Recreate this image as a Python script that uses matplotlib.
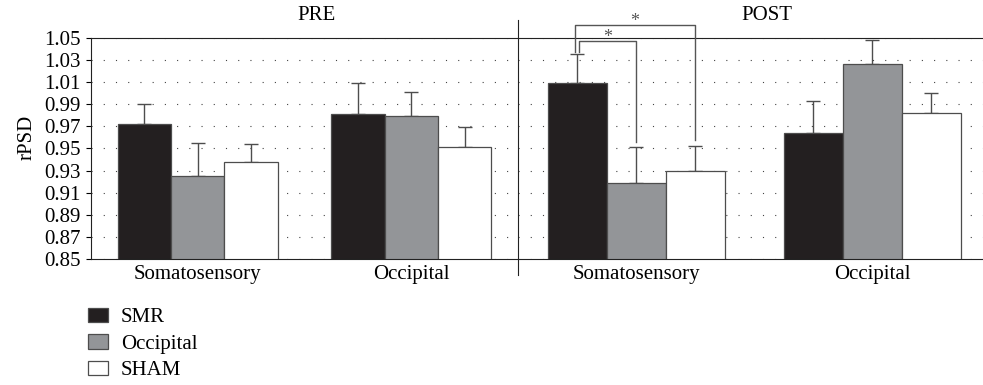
import matplotlib
matplotlib.use('Agg')
import matplotlib.pyplot as plt
import numpy as np

plt.rcParams['font.family'] = ['Liberation Serif', 'DejaVu Serif']

# 两个区域，三组刺激
regions = ['Somatosensory', 'Occipital']
groups = ['SMR', 'Occipital', 'SHAM']
colors = ['#231f20', '#939598', '#ffffff']

# PRE 阶段均值与误差
pre_smr = [0.972, 0.981]
pre_occ = [0.925, 0.979]
pre_sham = [0.938, 0.951]
pre_smr_err = [0.018, 0.028]
pre_occ_err = [0.030, 0.022]
pre_sham_err = [0.016, 0.018]

# POST 阶段均值与误差
post_smr = [1.009, 0.964]
post_occ = [0.919, 1.026]
post_sham = [0.930, 0.982]
post_smr_err = [0.026, 0.029]
post_occ_err = [0.032, 0.022]
post_sham_err = [0.022, 0.018]

yticks = np.arange(0.85, 1.0501, 0.02)
edge = '#4d4d4d'
W, H = 983, 385

fig = plt.figure(figsize=(W / 100, H / 100), dpi=100)
bottom = 1 - 259.3 / H
height = 221.6 / H
ax1 = fig.add_axes([91 / W, bottom, 427 / W, height])
ax2 = fig.add_axes([518 / W, bottom, 472 / W, height])


def draw_panel(ax, means, errs):
    x = np.arange(len(regions))
    width = 0.25
    bars = []
    for i, (m, e) in enumerate(zip(means, errs)):
        pos = x + (i - 1) * width
        b = ax.bar(pos, m, width, bottom=0, color=colors[i], edgecolor=edge,
                   linewidth=0.9, label=groups[i], zorder=2)
        ax.errorbar(pos, m, yerr=[np.zeros(len(e)), e], fmt='none',
                    ecolor=edge, elinewidth=1.0, capsize=4.7, capthick=1.0,
                    zorder=1.5)
        bars.append(b)
    ax.set_xlim(-0.5, 1.5)
    ax.set_ylim(0.85, 1.05)
    ax.set_yticks(yticks)
    ax.set_xticks(x)
    ax.set_xticklabels(regions, fontsize=15)
    ax.tick_params(axis='x', length=0, pad=4)
    ax.yaxis.grid(True, linestyle=(0, (1, 10)), linewidth=0.8, color='#444444')
    ax.set_axisbelow(True)
    ax.spines['right'].set_visible(False)
    for s in ['top', 'bottom', 'left']:
        ax.spines[s].set_color('#222222')
        ax.spines[s].set_linewidth(0.8)
    return bars


bars = draw_panel(ax1, [pre_smr, pre_occ, pre_sham],
                  [pre_smr_err, pre_occ_err, pre_sham_err])
draw_panel(ax2, [post_smr, post_occ, post_sham],
           [post_smr_err, post_occ_err, post_sham_err])

ax1.set_yticklabels(['%.2f' % t for t in yticks], fontsize=15)
ax1.tick_params(axis='y', direction='out', length=3.6, width=0.8, pad=4)
ax2.tick_params(axis='y', left=False, labelleft=False)
ax2.spines['left'].set_visible(False)

# 分隔 PRE / POST 的竖线
ax2.plot([0, 0], [-0.072, 1.08], transform=ax2.transAxes, color='#222222',
         linewidth=0.8, clip_on=False)


def bracket(ax, x0, x1, y0, y1, h, label):
    ax.plot([x0, x0, x1, x1], [y0, h, h, y1], color='#555555',
            linewidth=1.0, clip_on=False, zorder=3)
    ax.text((x0 + x1) / 2, h - 0.001, label, ha='center', va='baseline',
            fontsize=13, color='#555555', clip_on=False)


# POST 躯体感觉区的显著性标记
smr_top = post_smr[0] + post_smr_err[0]
occ_top = post_occ[0] + post_occ_err[0]
sham_top = post_sham[0] + post_sham_err[0]
bracket(ax2, -0.24, 0.0, smr_top + 0.002, occ_top + 0.005, 1.0473, '*')
bracket(ax2, -0.26, 0.25, smr_top + 0.002, sham_top + 0.006, 1.0612, '*')
ax2.set_ylim(0.85, 1.05)

fig.text(316 / W, 1 - 20 / H, 'PRE', ha='center', va='baseline', fontsize=15)
fig.text(767 / W, 1 - 20 / H, 'POST', ha='center', va='baseline', fontsize=15)
fig.text(27 / W, 1 - 137 / H, 'rPSD', ha='center', va='center',
         rotation=90, fontsize=15)

fig.legend(handles=bars, labels=groups, loc='upper left',
           bbox_to_anchor=(88 / W, 1 - 308 / H), frameon=False, fontsize=15,
           handlelength=0.96, handleheight=0.67, handletextpad=0.62,
           labelspacing=0.34, borderpad=0, borderaxespad=0)

fig.savefig('out.png', dpi=100)
